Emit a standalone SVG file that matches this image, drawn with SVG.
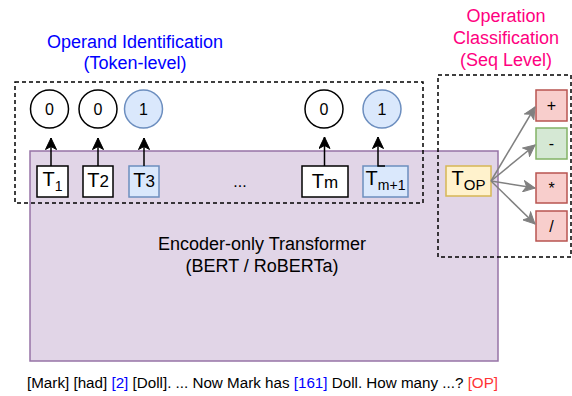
<svg xmlns="http://www.w3.org/2000/svg" width="572" height="396" viewBox="0 0 572 396">
<defs>
<style>
text{font-family:"Liberation Sans",Arial,Helvetica,sans-serif;}
.dash{fill:none;stroke:#000;stroke-width:1.5;stroke-dasharray:4 3;}
.wbox{fill:#fff;stroke:#000;stroke-width:1.5;}
.bbox{fill:#dae8fc;stroke:#6c8ebf;stroke-width:1.5;}
.rbox{fill:#f8cecc;stroke:#b85450;stroke-width:1.5;}
.gbox{fill:#d5e8d4;stroke:#82b366;stroke-width:1.5;}
.ybox{fill:#fff2cc;stroke:#d6b656;stroke-width:1.5;}
.lbl{font-size:16px;fill:#000;text-anchor:middle;}
.blk{stroke:#000;stroke-width:1.5;fill:none;}
.gry{stroke:#808080;stroke-width:1.5;fill:none;}
</style>
<marker id="ab" markerUnits="userSpaceOnUse" markerWidth="13" markerHeight="12" viewBox="0 0 13 12" refX="12" refY="6" orient="auto">
<path d="M0.5,0.5 L12,6 L0.5,11.5 L3.5,6 z" fill="#000" stroke="#000" stroke-width="1"/>
</marker>
<marker id="ag" markerUnits="userSpaceOnUse" markerWidth="13" markerHeight="12" viewBox="0 0 13 12" refX="12" refY="6" orient="auto">
<path d="M0.5,0.5 L12,6 L0.5,11.5 L3.5,6 z" fill="#808080" stroke="#808080" stroke-width="1"/>
</marker>
</defs>
<rect width="572" height="396" fill="#fff"/>

<g id="encoder">
<rect x="30" y="151" width="468" height="210" fill="#e1d5e7" stroke="#9673a6" stroke-width="1.5"/>
<text x="262" y="250" font-size="18" text-anchor="middle">Encoder-only Transformer</text>
<text x="262" y="272" font-size="18" text-anchor="middle">(BERT / RoBERTa)</text>
</g>

<g id="operand-group">
<rect class="dash" x="15" y="82" width="408" height="121"/>
<text x="135" y="48" font-size="18" fill="#0000ff" text-anchor="middle">Operand Identification</text>
<text x="135" y="69" font-size="18" fill="#0000ff" text-anchor="middle">(Token-level)</text>
</g>

<g id="operation-group">
<rect class="dash" x="438" y="75" width="133" height="182"/>
<text x="506" y="22" font-size="18" fill="#ff0080" text-anchor="middle">Operation</text>
<text x="506" y="44" font-size="18" fill="#ff0080" text-anchor="middle">Classification</text>
<text x="506" y="66" font-size="18" fill="#ff0080" text-anchor="middle">(Seq Level)</text>
</g>

<g id="c1"><circle cx="49.5" cy="109" r="19" class="wbox"/><text class="lbl" x="49.5" y="115">0</text></g>
<g id="c2"><circle cx="98" cy="109" r="19" class="wbox"/><text class="lbl" x="98" y="115">0</text></g>
<g id="c3"><circle cx="143.5" cy="109" r="19" class="bbox"/><text class="lbl" x="143.5" y="115">1</text></g>
<g id="c4"><circle cx="324" cy="109" r="19" class="wbox"/><text class="lbl" x="324" y="115">0</text></g>
<g id="c5"><circle cx="382" cy="109" r="19" class="bbox"/><text class="lbl" x="382" y="115">1</text></g>

<g id="t1"><rect class="wbox" x="37" y="166" width="31" height="31"/><text x="52.5" y="186" text-anchor="middle" font-size="20">T<tspan font-size="14" dy="5">1</tspan></text></g>
<g id="t2"><rect class="wbox" x="83" y="166" width="30" height="31"/><text x="98" y="187" text-anchor="middle" font-size="20">T<tspan font-size="17">2</tspan></text></g>
<g id="t3"><rect class="bbox" x="129" y="166" width="30" height="31"/><text x="144" y="187" text-anchor="middle" font-size="20">T<tspan font-size="17">3</tspan></text></g>
<g id="dots"><text x="240" y="187" text-anchor="middle" font-size="16">...</text></g>
<g id="tm"><rect class="wbox" x="302" y="166" width="46" height="31"/><text x="325" y="188" text-anchor="middle" font-size="20">T<tspan font-size="17">m</tspan></text></g>
<g id="tm1"><rect class="bbox" x="363" y="166" width="45" height="31"/><text x="385.5" y="185" text-anchor="middle" font-size="20">T<tspan font-size="14" dy="5">m+1</tspan></text></g>

<g id="top"><rect class="ybox" x="446" y="166" width="45" height="30"/><text x="468.5" y="185" text-anchor="middle" font-size="20">T<tspan font-size="15" dy="5">OP</tspan></text></g>

<g id="op-plus"><rect class="rbox" x="536" y="90" width="31" height="31"/><text class="lbl" x="551.5" y="111">+</text></g>
<g id="op-minus"><rect class="gbox" x="536" y="128" width="31" height="31"/><text class="lbl" x="551.5" y="149">-</text></g>
<g id="op-mul"><rect class="rbox" x="536" y="173" width="31" height="30"/><text class="lbl" x="551.5" y="194">*</text></g>
<g id="op-div"><rect class="rbox" x="536" y="211" width="31" height="30"/><text class="lbl" x="551.5" y="232">/</text></g>

<g id="connectors">
<line class="blk" x1="51" y1="166" x2="51" y2="138" marker-end="url(#ab)"/>
<line class="blk" x1="98" y1="166" x2="98" y2="138" marker-end="url(#ab)"/>
<line class="blk" x1="144" y1="166" x2="144" y2="138" marker-end="url(#ab)"/>
<line class="blk" x1="324.5" y1="166" x2="324.5" y2="137" marker-end="url(#ab)"/>
<polyline class="blk" points="385,166 378,166 378,137" marker-end="url(#ab)"/>
<line class="gry" x1="491" y1="181" x2="535" y2="107" marker-end="url(#ag)"/>
<line class="gry" x1="491" y1="181" x2="535" y2="145" marker-end="url(#ag)"/>
<line class="gry" x1="491" y1="181" x2="535" y2="188" marker-end="url(#ag)"/>
<line class="gry" x1="491" y1="181" x2="535" y2="224" marker-end="url(#ag)"/>
</g>

<g id="caption">
<text x="27" y="388" font-size="15.2">[Mark] [had] <tspan fill="#0000ff">[2]</tspan> [Doll]. ... Now Mark has <tspan fill="#0000ff">[161]</tspan> Doll. How many ...? <tspan fill="#ff3333">[OP]</tspan></text>
</g>
</svg>
